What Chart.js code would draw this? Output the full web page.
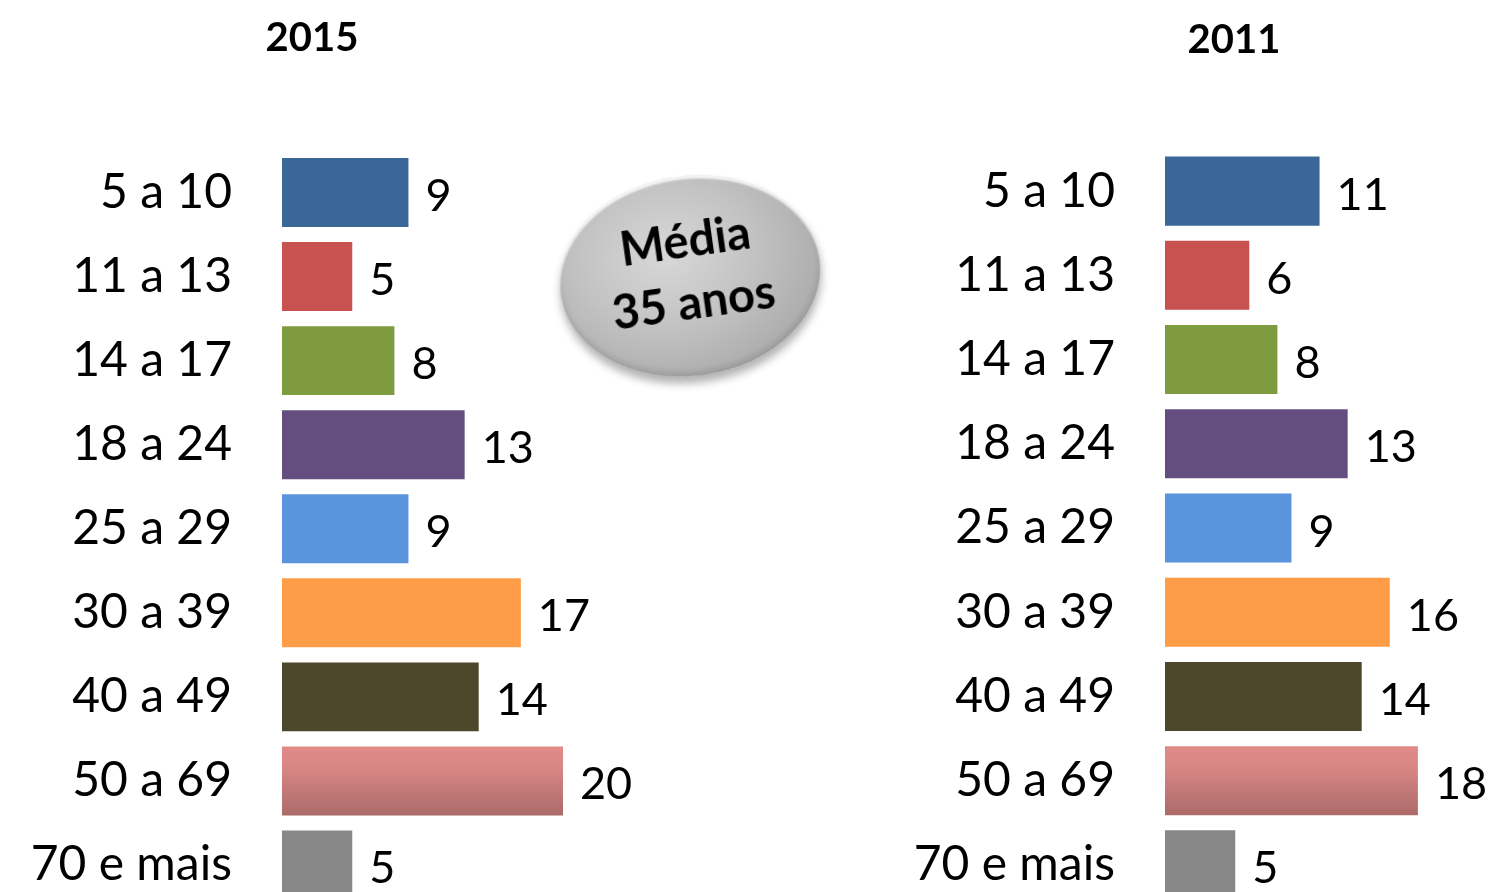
<!DOCTYPE html>
<html>
<head>
<meta charset="utf-8">
<script src="https://cdn.jsdelivr.net/npm/chart.js@4.4.1/dist/chart.umd.min.js"></script>
<style>
  html, body { margin: 0; padding: 0; background: #fff; overflow: hidden; }
  body { width: 1493px; height: 892px; position: relative; font-family: Lato, "Open Sans", sans-serif; }
  canvas { position: absolute; top: 0; }
  .titulo { position: absolute; font-weight: bold; font-size: 40px; color: #000; text-align: center; width: 200px; }
  #media {
    position: absolute; left: 559px; top: 176px; width: 262px; height: 200px;
    border-radius: 50%;
    transform: rotate(-8deg);
    background: radial-gradient(ellipse at 42% 38%, #d8d8d8 0%, #c3c3c3 40%, #aaaaaa 78%, #939393 100%);
    box-shadow: 0 7px 8px rgba(0,0,0,0.3), inset 0 3px 2px rgba(255,255,255,0.85), inset 0 -4px 6px rgba(0,0,0,0.12);
  }
  #media div {
    position: absolute; left: 0; width: 100%; text-align: center;
    font-weight: bold; font-size: 47px; color: #000; line-height: 1;
  }
</style>
</head>
<body>

<canvas id="graf2015" width="746" height="907" style="left:0px;"></canvas>
<canvas id="graf2011" width="747" height="907" style="left:746px;"></canvas>

<div class="titulo" style="left:212px; top:12px;">2015</div>
<div class="titulo" style="left:1134px; top:14px;">2011</div>

<div id="media">
  <div style="top:40px;">Média</div>
  <div style="top:102px;">35 anos</div>
</div>

<script>
// faixas etarias
const faixas = ['5 a 10', '11 a 13', '14 a 17', '18 a 24', '25 a 29', '30 a 39', '40 a 49', '50 a 69', '70 e mais'];
// valores em %
const valores2015 = [9, 5, 8, 13, 9, 17, 14, 20, 5];
const valores2011 = [11, 6, 8, 13, 9, 16, 14, 18, 5];

const cores = ['#3a6698', '#c8524f', '#7e9c3f', '#644e80', '#5a94dc', '#ff9c48', '#4d472c', 'degrade', '#878787'];

const pxPorUnidade = 14.05;

// plugin maison pour ecrire les valeurs a droite des barres
const rotulos = {
  id: 'rotulos',
  afterDatasetsDraw(chart) {
    const ctx = chart.ctx;
    const meta = chart.getDatasetMeta(0);
    ctx.save();
    ctx.font = '45px Lato, "Open Sans", sans-serif';
    ctx.fillStyle = '#000';
    ctx.textAlign = 'left';
    ctx.textBaseline = 'middle';
    meta.data.forEach((barra, i) => {
      ctx.fillText(chart.data.datasets[0].data[i], barra.x + 17, barra.y + 4);
    });
    ctx.restore();
  }
};

function corBarra(context) {
  const c = cores[context.dataIndex];
  if (c !== 'degrade') return c;
  const chart = context.chart;
  const escala = chart.scales && chart.scales.y;
  if (!escala) return '#d08180';
  const meio = escala.getPixelForValue(context.dataIndex);
  const h = 69;
  if (!isFinite(meio)) return '#d08180';
  const g = chart.ctx.createLinearGradient(0, meio - h / 2, 0, meio + h / 2);
  g.addColorStop(0, '#e18b89');
  g.addColorStop(0.35, '#d68583');
  g.addColorStop(1, '#ab6a69');
  return g;
}

function criarGrafico(id, valores, larguraEixo, topo, larguraTotal) {
  const larguraArea = larguraTotal - larguraEixo;
  return new Chart(document.getElementById(id), {
    type: 'bar',
    data: {
      labels: faixas,
      datasets: [{
        data: valores,
        backgroundColor: corBarra,
        borderWidth: 0,
        barPercentage: 0.82,
        categoryPercentage: 1
      }]
    },
    options: {
      indexAxis: 'y',
      responsive: false,
      animation: false,
      layout: { padding: { top: topo, bottom: 0, left: 0, right: 0 } },
      plugins: { legend: { display: false }, tooltip: { enabled: false } },
      scales: {
        x: {
          display: false,
          min: 0,
          max: larguraArea / pxPorUnidade
        },
        y: {
          grid: { display: false, drawTicks: false },
          border: { display: false },
          ticks: {
            color: '#000',
            padding: 50,
            font: { family: 'Lato, "Open Sans", sans-serif', size: 48 }
          },
          afterFit(scale) {
            scale.width = larguraEixo;
            scale.paddingTop = 0;
            scale.paddingBottom = 0;
          }
        }
      }
    },
    plugins: [rotulos]
  });
}

criarGrafico('graf2015', valores2015, 282, 150.5, 746);
criarGrafico('graf2011', valores2011, 419, 149, 747);
</script>
</body>
</html>
